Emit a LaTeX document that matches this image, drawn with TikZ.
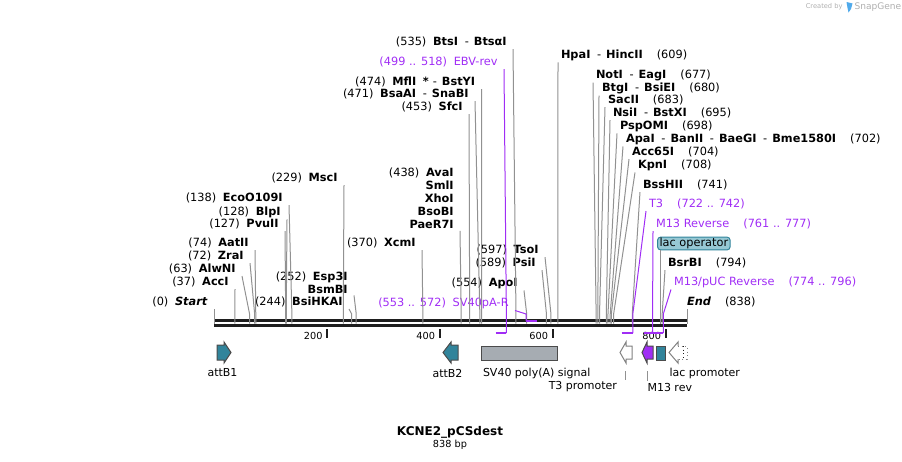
\documentclass[tikz,border=0pt]{standalone}
\usepackage{fontspec}
\setmainfont{DejaVu Sans}

\definecolor{cutgray}{RGB}{145,145,145}
\definecolor{primer}{RGB}{160,45,245}
\definecolor{attteal}{RGB}{49,132,155}
\definecolor{polyagray}{RGB}{166,172,178}
\definecolor{lacfill}{RGB}{150,200,212}
\definecolor{bbcol}{RGB}{30,30,30}
\definecolor{wmgray}{RGB}{175,175,175}
\definecolor{wmblue}{RGB}{80,170,235}

\newcommand{\gn}{\hspace{5pt}}
\newcommand{\gr}{\hspace{10.5pt}}
\newcommand{\gd}{\hspace{5pt}-\hspace{3.75pt}}

\tikzset{every picture/.style={line width=0.75pt}}
\tikzset{
  lbl/.style={font=\fontsize{8.5}{9.75}\selectfont, inner sep=0.75pt, outer ysep=0.75pt},
  lbll/.style={lbl, anchor=east, align=right, outer xsep=4pt},
  lblr/.style={lbl, anchor=west, outer xsep=1.5pt},
  prm/.style={text=primer},
  cut/.style={draw=cutgray},
  prmln/.style={draw=primer},
  prmbar/.style={draw=primer, line width=1.5pt},
  feat/.style={draw=bbcol!80, line width=0.75pt},
  flbl/.style={font=\fontsize{8.25}{9.5}\selectfont, inner sep=0.75pt},
  ticklbl/.style={font=\fontsize{7.3}{8.5}\selectfont, inner sep=0.75pt, anchor=east},
}

\begin{document}
\begin{tikzpicture}[x=0.75pt,y=0.75pt,yscale=-1,xscale=1]
\useasboundingbox (0,0) rectangle (902,461);

% sites on the sequence
\foreach \bp in {0,37,63,72,74,127,128,138,229,244,252,370,438,453,471,474,535,554,589,597,609,677,680,683,695,698,702,704,708,741,794,838}
  \coordinate (s\bp) at ({214+\bp*0.56444},323.5);
\foreach \bp in {499,518,722,742,761,777,774,796}
  \coordinate (p\bp) at ({214+\bp*0.56444},333);
\coordinate (q553) at (526.1,321);
\coordinate (q572) at (536.9,321);
\coordinate (knee) at (0,314);
\coordinate (slac) at (660.5,323.5);

% backbone
\coordinate (bbl) at (214,325);
\coordinate (bbr) at (687,325);
\draw [bbcol, line width=2.25pt] (bbl) -- (bbr);
\draw [bbcol, line width=1.9pt] ([yshift=-3.4pt]bbl) -- ([yshift=-3.4pt]bbr);

% ticks
\draw [bbcol, line width=1.5pt] (327,329) -- (327,337.5);
\draw [bbcol, line width=1.5pt] (439.8,329) -- (439.8,337.5);
\draw [bbcol, line width=1.5pt] (552.6,329) -- (552.6,337.5);
\draw [bbcol, line width=1.5pt] (665.5,329) -- (665.5,337.5);
\node (t200) [ticklbl] at (324,336) {200};
\node (t400) [ticklbl] at (436.5,336) {400};
\node (t600) [ticklbl] at (549.5,336) {600};
\node (t800) [ticklbl] at (662.5,336) {800};

% left labels
\node (start) [lbll] at (214,302) {(0)\gn\textbf{\textit{Start}}};
\node (accI) [lbll] at (235,282) {(37)\gn\textbf{AccI}};
\node (alwNI) [lbll] at (242,269) {(63)\gn\textbf{AlwNI}};
\node (zraI) [lbll] at (250,256) {(72)\gn\textbf{ZraI}};
\node (aatII) [lbll] at (255,243) {(74)\gn\textbf{AatII}};
\node (pvuII) [lbll] at (285,224) {(127)\gn\textbf{PvuII}};
\node (blpI) [lbll] at (287,212) {(128)\gn\textbf{BlpI}};
\node (ecoO) [lbll] at (289,198) {(138)\gn\textbf{EcoO109I}};
\node (mscI) [lbll] at (344,178) {(229)\gn\textbf{MscI}};
\node (bsiHKAI) [lbll] at (349,302) {(244)\gn\textbf{BsiHKAI}};
\node (esp3I) [lbll] at (354,282.5) {(252)\gn\textbf{Esp3I}\\\textbf{BsmBI}};
\node (xcmI) [lbll] at (422,243) {(370)\gn\textbf{XcmI}};
\node (avaI) [lbll] at (460,198.5) {(438)\gn\textbf{AvaI}\\\textbf{SmlI}\\\textbf{XhoI}\\\textbf{BsoBI}\\\textbf{PaeR7I}};
\node (sfcI) [lbll] at (469,107) {(453)\gn\textbf{SfcI}};
\node (bsaAI) [lbll] at (475,94) {(471)\gn\textbf{BsaAI}\gd\textbf{SnaBI}};
\node (mflI) [lbll] at (481.5,82) {(474)\gn\textbf{MflI}\hspace{5pt}\textbf{*}\hspace{3pt}-\hspace{3.75pt}\textbf{BstYI}};
\node (ebv) [lbll, prm] at (504,62) {(499 .. 518)\gn EBV-rev};
\node (btsI) [lbll] at (513,42) {(535)\gn\textbf{BtsI}\gd\textbf{BtsαI}};
\node (sv40r) [lbll, prm] at (515,303) {(553 .. 572)\gn SV40pA-R};
\node (apoI) [lbll] at (524,283) {(554)\gn\textbf{ApoI}};
\node (psiI) [lbll] at (542,263) {(589)\gn\textbf{PsiI}};
\node (tsoI) [lbll] at (545,250) {(597)\gn\textbf{TsoI}};

% right labels
\node (hpaI) [lblr] at (558,55) {\textbf{HpaI}\gd\textbf{HincII}\gr(609)};
\node (notI) [lblr] at (593,75) {\textbf{NotI}\gd\textbf{EagI}\gr(677)};
\node (btgI) [lblr] at (599,88) {\textbf{BtgI}\gd\textbf{BsiEI}\gr(680)};
\node (sacII) [lblr] at (605,100) {\textbf{SacII}\gr(683)};
\node (nsiI) [lblr] at (610,113) {\textbf{NsiI}\gd\textbf{BstXI}\gr(695)};
\node (pspOMI) [lblr] at (617,126) {\textbf{PspOMI}\gr(698)};
\node (apaI) [lblr] at (623,139) {\textbf{ApaI}\gd\textbf{BanII}\gd\textbf{BaeGI}\gd\textbf{Bme1580I}\gr(702)};
\node (acc65I) [lblr] at (629,152) {\textbf{Acc65I}\gr(704)};
\node (kpnI) [lblr] at (635,165) {\textbf{KpnI}\gr(708)};
\node (bssHII) [lblr] at (640,185) {\textbf{BssHII}\gr(741)};
\node (tthree) [lblr, prm] at (646,204) {T3\gr(722 .. 742)};
\node (mrev) [lblr, prm] at (653,224) {M13 Reverse\gr(761 .. 777)};
\node (lacop) [lbl, anchor=west, outer sep=0pt, inner xsep=1.5pt, rounded corners=2.5pt, draw=attteal, fill=lacfill] at (657.5,243.5) {lac operator};
\node (bsrBI) [lblr] at (665,263) {\textbf{BsrBI}\gr(794)};
\node (mpuc) [lblr, prm] at (671,282) {M13/pUC Reverse\gr(774 .. 796)};
\node (endl) [lblr] at (684,302) {\textbf{\textit{End}}\gr(838)};

% cut lines
\draw [cut] (s0 |- start.south) -- (s0);
\draw [cut] (accI.south east) -- (s37 |- knee) -- (s37);
\draw [cut] (alwNI.south east) -- (s63 |- knee) -- (s63);
\draw [cut] (zraI.south east) -- (s72 |- knee) -- (s72);
\draw [cut] (aatII.south east) -- (s74 |- knee) -- (s74);
\draw [cut] (pvuII.south east) -- (s127 |- knee) -- (s127);
\draw [cut] (blpI.south east) -- (s128 |- knee) -- (s128);
\draw [cut] (ecoO.south east) -- (s138 |- knee) -- (s138);
\draw [cut] (mscI.south east) -- (s229 |- knee) -- (s229);
\draw [cut] (bsiHKAI.south east) -- (s244 |- knee) -- (s244);
\draw [cut] (esp3I.south east) -- (s252 |- knee) -- (s252);
\draw [cut] (xcmI.south east) -- (s370 |- knee) -- (s370);
\draw [cut] (avaI.south east) -- (s438 |- knee) -- (s438);
\draw [cut] (sfcI.south east) -- (s453 |- knee) -- (s453);
\draw [cut] (bsaAI.south east) -- (s471 |- knee) -- (s471);
\draw [cut] (mflI.south east) -- (s474 |- knee) -- (s474);
\draw [cut] (btsI.south east) -- (s535 |- knee) -- (s535);
\draw [cut] (apoI.south east) -- (s554 |- knee) -- (s554);
\draw [cut] (psiI.south east) -- (s589 |- knee) -- (s589);
\draw [cut] (tsoI.south east) -- (s597 |- knee) -- (s597);
\draw [cut] (hpaI.south west) -- (s609 |- knee) -- (s609);
\draw [cut] (notI.south west) -- (s677 |- knee) -- (s677);
\draw [cut] (btgI.south west) -- (s680 |- knee) -- (s680);
\draw [cut] (sacII.south west) -- (s683 |- knee) -- (s683);
\draw [cut] (nsiI.south west) -- (s695 |- knee) -- (s695);
\draw [cut] (pspOMI.south west) -- (s698 |- knee) -- (s698);
\draw [cut] (apaI.south west) -- (s702 |- knee) -- (s702);
\draw [cut] (acc65I.south west) -- (s704 |- knee) -- (s704);
\draw [cut] (kpnI.south west) -- (s708 |- knee) -- (s708);
\draw [cut] (bssHII.south west) -- (s741 |- knee) -- (s741);
\draw [cut] (slac |- lacop.south) -- (slac);
\draw [cut] (bsrBI.south west) -- (s794 |- knee) -- (s794);
\draw [cut] (s838 |- endl.south) -- (s838);

% primers
\draw [prmln] (ebv.south east) -- (p518 |- knee) -- (p518);
\draw [prmbar] (p499) -- (p518);
\draw [prmln] (sv40r.south east) -- (q553 |- knee) -- (q553);
\draw [prmbar] (q553) -- (q572);
\draw [prmln] (tthree.south west) -- (p742 |- knee) -- (p742);
\draw [prmbar] (p722) -- (p742);
\draw [prmln] (mrev.south west) -- (p777 |- knee) -- (p777);
\draw [prmbar] (p761) -- (p777);
\draw [prmln] (mpuc.south west) -- (p796 |- knee) -- (p796);
\draw [prmbar] (p774) -- (p796);

% features
\draw [feat, fill=attteal] (217,345) -- (224,345) -- (224,342) -- (231,352.5) -- (224,363) -- (224,360) -- (217,360) -- cycle;
\draw [feat, fill=attteal] (458,345) -- (451,345) -- (451,342) -- (443,352.5) -- (451,363) -- (451,360) -- (458,360) -- cycle;
\draw [feat, fill=polyagray] (481.5,346) rectangle (557.5,360.5);
\draw [draw=gray, fill=white] (632,346) -- (626,346) -- (626,342) -- (620,352.5) -- (626,363) -- (626,359) -- (632,359) -- cycle;
\draw [feat, fill=primer] (653,346) -- (647,346) -- (647,342) -- (642,352.5) -- (647,363) -- (647,359) -- (653,359) -- cycle;
\draw [feat, fill=attteal] (656,346) rectangle (665.5,360.5);
\draw [draw=gray] (678,346) -- (678,342) -- (669,352.5) -- (678,363) -- (678,359);
\draw [draw=gray, dotted] (678,346) -- (687,346) -- (687,359) -- (678,359);
\draw [draw=bbcol, dotted] (683,346) -- (683,359);

\node (attbone) [flbl] at (222.5,373) {attB1};
\node (attbtwo) [flbl] at (447.5,373) {attB2};
\node (svlbl) [flbl, anchor=west] at (481.5,373) {SV40 poly(A) signal};
\node (t3lbl) [flbl, anchor=east] at (618.5,387) {T3 promoter};
\node (m13lbl) [flbl, anchor=west] at (646,387) {M13 rev};
\node (laclbl) [flbl, anchor=west] at (668,373) {lac promoter};
\coordinate (t3tick) at (625.7,371);
\coordinate (m13tick) at (647,371);
\draw [cut] (t3tick) -- (t3tick |- t3lbl.north);
\draw [cut] (m13tick) -- (m13tick |- m13lbl.north);

% title
\node (title) [font=\fontsize{9}{11}\selectfont\bfseries, inner sep=0.75pt] at (450,432) {KCNE2\_pCSdest};
\node (size) [font=\fontsize{7.3}{8.5}\selectfont, inner sep=0.75pt] at (450,445) {838 bp};

% watermark
\node (wmone) [font=\fontsize{5}{6}\selectfont, text=wmgray, anchor=east, inner sep=0pt] at (843,7) {Created by};
\fill [wmblue] (846.5,2) -- (852.5,3.5) -- (851,9) -- (848.5,12.5) -- (847.5,8) -- cycle;
\node (wmtwo) [font=\fontsize{6.8}{8}\selectfont, text=wmgray, anchor=west, inner sep=0pt] at (854,7) {SnapGene};
\end{tikzpicture}
\end{document}
